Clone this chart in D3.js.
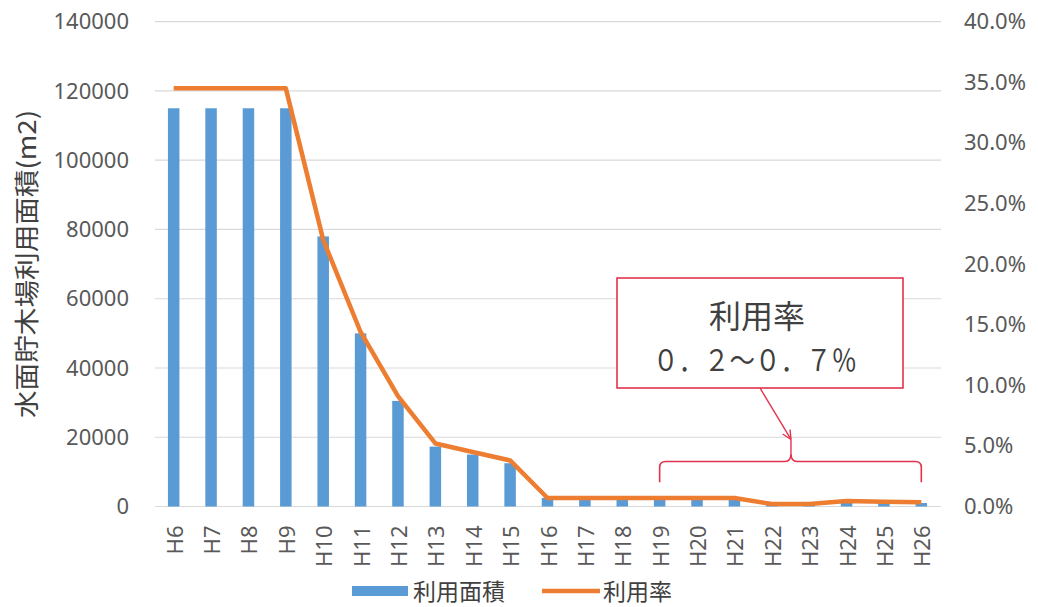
<!DOCTYPE html>
<html>
<head>
<meta charset="utf-8">
<script src="https://cdn.jsdelivr.net/npm/d3@7"></script>
<style>
  html, body { margin: 0; padding: 0; background: #fff; }
  svg { display: block; }
  text { font-family: "Noto Sans", "Noto Sans CJK JP", sans-serif; }
  .cjk { font-family: "Noto Sans CJK JP", sans-serif; }
</style>
</head>
<body>
<svg id="chart" width="1038" height="607"></svg>
<script>
// data
const years = ["H6","H7","H8","H9","H10","H11","H12","H13","H14","H15","H16",
  "H17","H18","H19","H20","H21","H22","H23","H24","H25","H26"]
const area = [115000,115000,115000,115000,78000,50000,30500,17300,15000,12500,2500,
  2500,2500,2500,2500,2500,600,600,1700,1100,1000]
const rate = [0.345,0.345,0.345,0.345,0.22,0.144,0.091,0.052,0.045,0.038,0.007,
  0.007,0.007,0.007,0.007,0.007,0.002,0.002,0.0045,0.004,0.0035]
const areaTicks = [0,20000,40000,60000,80000,100000,120000,140000]
const rateTicks = [0,0.05,0.1,0.15,0.2,0.25,0.3,0.35,0.4]

const blue = "#5b9bd5"
const orange = "#ed7d31"
const red = "#e2334c"
const textCol = "#595959"

const svg = d3.select("#chart")

const x = d3.scaleBand().domain(years).range([155, 940])
const yL = d3.scaleLinear().domain([0, 140000]).range([506.5, 21.7])
const yR = d3.scaleLinear().domain([0, 0.4]).range([506.5, 21.7])
const cx = (d) => x(d) + x.bandwidth() / 2

// gridlines
svg.append("g")
  .selectAll("line")
  .data(areaTicks)
  .join("line")
  .attr("x1", 155).attr("x2", 941)
  .attr("y1", (d) => yL(d)).attr("y2", (d) => yL(d))
  .attr("stroke", "#d9d9d9").attr("stroke-width", 1.2)

// left axis
const left = svg.append("g")
  .attr("transform", "translate(129,0)")
  .call(d3.axisLeft(yL).tickValues(areaTicks).tickSize(0).tickPadding(0).tickFormat(d3.format("d")))
left.select(".domain").remove()
left.selectAll("text")
  .attr("font-size", 22).attr("fill", textCol)
  .attr("font-family", "Noto Sans")

// right axis
const right = svg.append("g")
  .attr("transform", "translate(964,0)")
  .call(d3.axisRight(yR).tickValues(rateTicks).tickSize(0).tickPadding(0).tickFormat(d3.format(".1%")))
right.select(".domain").remove()
right.selectAll("text")
  .attr("font-size", 22).attr("fill", textCol)
  .attr("font-family", "Noto Sans")

// bottom axis, labels rotated
const bottom = svg.append("g")
  .attr("transform", "translate(0,506.5)")
  .call(d3.axisBottom(x).tickSize(0).tickPadding(0))
bottom.select(".domain").remove()
bottom.selectAll("text")
  .attr("font-size", 22).attr("fill", textCol)
  .attr("font-family", "Noto Sans")
  .attr("text-anchor", "end")
  .attr("dy", null)
  .attr("dominant-baseline", "central")
  .attr("transform", "translate(0,19) rotate(-90)")

// y axis title
svg.append("text")
  .attr("class", "cjk")
  .attr("transform", "translate(25,264) rotate(-90)")
  .attr("text-anchor", "middle")
  .attr("dominant-baseline", "central")
  .attr("font-size", 25)
  .attr("fill", "#404040")
  .attr("textLength", 308)
  .attr("lengthAdjust", "spacingAndGlyphs")
  .text("水面貯木場利用面積(m2)")

// bars
const barW = 11.5
svg.append("g")
  .selectAll("rect")
  .data(years)
  .join("rect")
  .attr("x", (d) => cx(d) - barW / 2)
  .attr("width", barW)
  .attr("y", (d, i) => yL(area[i]))
  .attr("height", (d, i) => yL(0) - yL(area[i]))
  .attr("fill", blue)

// rate line
const line = d3.line()
  .x((d) => cx(d))
  .y((d, i) => yR(rate[i]))
svg.append("path")
  .datum(years)
  .attr("d", line)
  .attr("fill", "none")
  .attr("stroke", orange)
  .attr("stroke-width", 4.5)
  .attr("stroke-linejoin", "round")
  .attr("stroke-linecap", "butt")

// annotation box
const ann = svg.append("g")
ann.append("rect")
  .attr("x", 617).attr("y", 278)
  .attr("width", 286).attr("height", 110)
  .attr("fill", "#fff")
  .attr("stroke", red).attr("stroke-width", 1.6)
ann.append("text")
  .attr("class", "cjk")
  .attr("x", 757).attr("y", 314)
  .attr("text-anchor", "middle").attr("dominant-baseline", "central")
  .attr("font-size", 32).attr("fill", "#404040")
  .text("利用率")
ann.append("text")
  .attr("class", "cjk")
  .attr("x", 755).attr("y", 358)
  .attr("text-anchor", "middle").attr("dominant-baseline", "central")
  .attr("font-size", 30).attr("fill", "#404040")
  .attr("textLength", 204).attr("lengthAdjust", "spacingAndGlyphs")
  .text("０．２～０．７％")

// brace spanning H19..H26
const bx0 = cx("H19"), bx1 = cx("H26"), bm = (bx0 + bx1) / 2 + 0.5
const by = yL(13000), byEnd = yL(7000)
ann.append("path")
  .attr("d", `M${bx0},${byEnd} L${bx0},${by + 6} Q${bx0},${by} ${bx0 + 6},${by}
    L${bm - 6},${by} Q${bm},${by} ${bm},${by - 8} Q${bm},${by} ${bm + 6},${by}
    L${bx1 - 6},${by} Q${bx1},${by} ${bx1},${by + 6} L${bx1},${byEnd}`)
  .attr("fill", "none").attr("stroke", red).attr("stroke-width", 1.6)

// arrow from box to brace
const ax0 = 760, ay0 = 388, ax1 = bm, ay1 = by - 8
ann.append("line")
  .attr("x1", ax0).attr("y1", ay0).attr("x2", ax1).attr("y2", ay1 - 14)
  .attr("stroke", red).attr("stroke-width", 1.4)
ann.append("line")
  .attr("x1", ax1).attr("y1", ay1).attr("x2", ax1).attr("y2", ay1 - 14)
  .attr("stroke", red).attr("stroke-width", 1.4)
const ang = Math.atan2(ay1 - 14 - ay0, ax1 - ax0)
;[-0.45, 0.45].forEach((a) => {
  ann.append("line")
    .attr("x1", ax1).attr("y1", ay1 - 14)
    .attr("x2", ax1 - 10 * Math.cos(ang + a)).attr("y2", ay1 - 14 - 10 * Math.sin(ang + a))
    .attr("stroke", red).attr("stroke-width", 1.4)
})

// legend
const lg = svg.append("g")
lg.append("rect")
  .attr("x", 352).attr("y", 586).attr("width", 56).attr("height", 10)
  .attr("fill", blue)
lg.append("text")
  .attr("class", "cjk")
  .attr("x", 413).attr("y", 590)
  .attr("dominant-baseline", "central")
  .attr("font-size", 23).attr("fill", "#404040")
  .text("利用面積")
lg.append("line")
  .attr("x1", 542).attr("x2", 600).attr("y1", 591).attr("y2", 591)
  .attr("stroke", orange).attr("stroke-width", 4.5)
lg.append("text")
  .attr("class", "cjk")
  .attr("x", 603).attr("y", 590)
  .attr("dominant-baseline", "central")
  .attr("font-size", 23).attr("fill", "#404040")
  .text("利用率")
</script>
</body>
</html>
